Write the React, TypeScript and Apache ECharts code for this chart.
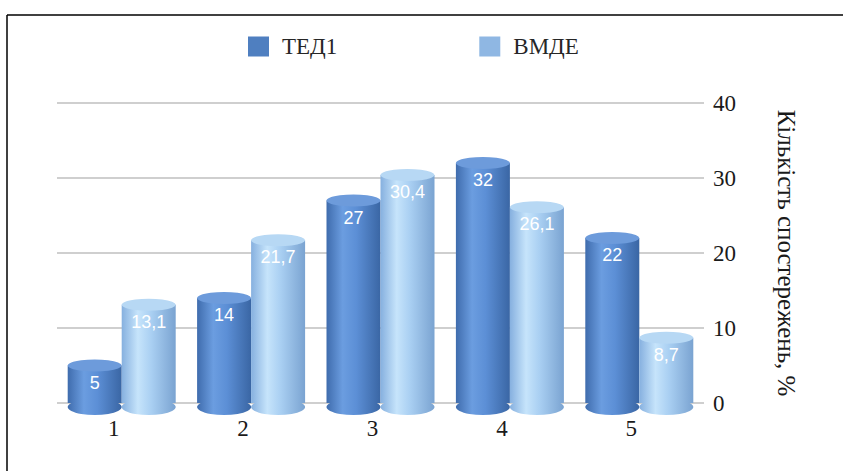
import React, { useEffect, useRef } from "react";
import * as echarts from "echarts";

const categories = ["1", "2", "3", "4", "5"];
const seriesNames = ["ТЕД1", "ВМДЕ"];
const ted1Values = [5, 14, 27, 32, 22];
const vmdeValues = [13.1, 21.7, 30.4, 26.1, 8.7];
const yTicks = { min: 0, max: 40, interval: 10 };
const yAxisTitle = "Кількість спостережень, %";

const BW = 54;
const SERIF = "Liberation Serif";
const SANS = "Liberation Sans";

const grad = (stops: [number, string][]) =>
  new echarts.graphic.LinearGradient(
    0, 0, 1, 0,
    stops.map(([offset, color]) => ({ offset, color }))
  );

const darkBody = () =>
  grad([[0, "#3f6cad"], [0.3, "#6b9de0"], [0.55, "#5c8fd6"], [1, "#3a66a4"]]);
const lightBody = () =>
  grad([[0, "#86b0df"], [0.3, "#c6e4fb"], [0.55, "#a9cff2"], [1, "#7aa3d1"]]);

export default function App() {
  const ref = useRef<HTMLDivElement>(null);
  useEffect(() => {
    if (!ref.current) return;
    const chart = echarts.init(ref.current, null, { renderer: "svg" });
    const fmt = (p: any) => String(p.value).replace(".", ",");
    const bodySeries = (name: string, data: number[], color: any) => ({
      name,
      type: "bar",
      data,
      barWidth: BW,
      barGap: "0%",
      z: 2,
      itemStyle: { color },
      label: {
        show: true,
        position: "insideTop",
        distance: 8,
        color: "#ffffff",
        fontFamily: SANS,
        fontSize: 18,
        formatter: fmt,
      },
    });
    const cap = (data: number[], dx: number, color: any, top: boolean) => ({
      type: "pictorialBar",
      data,
      symbol: "circle",
      symbolSize: top ? [BW, 12] : [BW, 16],
      symbolPosition: top ? "end" : "start",
      symbolOffset: top ? [dx, "-50%"] : [dx, 12],
      barWidth: BW,
      barGap: "-100%",
      z: top ? 3 : 1,
      silent: true,
      legendHoverLink: false,
      tooltip: { show: false },
      itemStyle: { color },
    });
    chart.setOption({
      animation: false,
      backgroundColor: "#ffffff",
      textStyle: { fontFamily: SERIF },
      legend: {
        data: [
          { name: seriesNames[0], itemStyle: { color: "#4f7fc0" } },
          { name: seriesNames[1], itemStyle: { color: "#8fb7e3" } },
        ],
        left: 243,
        top: 30,
        itemWidth: 21,
        itemHeight: 20,
        itemGap: 142,
        icon: "rect",
        formatter: "{t|{name}}",
        textStyle: {
          fontFamily: SERIF,
          fontSize: 23,
          color: "#262626",
          rich: {
            t: {
              fontFamily: SERIF,
              fontSize: 23,
              fontWeight: "normal",
              color: "#262626",
              padding: [0, 0, 0, 8],
            },
          },
        },
      },
      grid: { left: 57, right: 139, top: 103, bottom: 68 },
      xAxis: {
        type: "category",
        data: categories,
        axisLine: { show: false },
        axisTick: { show: false },
        axisLabel: {
          margin: 14,
          fontFamily: SERIF,
          fontSize: 23,
          color: "#1a1a1a",
          padding: [0, 16, 0, 0],
        },
      },
      yAxis: {
        type: "value",
        position: "right",
        min: yTicks.min,
        max: yTicks.max,
        interval: yTicks.interval,
        axisLine: { show: false },
        axisTick: { show: false },
        axisLabel: {
          margin: 9,
          fontFamily: SERIF,
          fontSize: 23,
          color: "#1a1a1a",
        },
        splitLine: { lineStyle: { color: "#cfcfcf", width: 2 } },
        name: yAxisTitle,
        nameLocation: "middle",
        nameRotate: -90,
        nameGap: 70,
        nameTextStyle: { fontFamily: SERIF, fontSize: 25, color: "#1a1a1a" },
      },
      graphic: [
        { type: "line", shape: { x1: 7, y1: 15, x2: 843, y2: 15 }, style: { stroke: "#000", lineWidth: 1.5 } },
        { type: "line", shape: { x1: 7, y1: 15, x2: 7, y2: 471 }, style: { stroke: "#000", lineWidth: 1.5 } },
      ],
      series: [
        bodySeries(seriesNames[0], ted1Values, darkBody()),
        bodySeries(seriesNames[1], vmdeValues, lightBody()),
        cap(ted1Values, -BW / 2, darkBody(), false),
        cap(vmdeValues, BW / 2, lightBody(), false),
        cap(ted1Values, -BW / 2, "#6d9bdb", true),
        cap(vmdeValues, BW / 2, "#b7d8f4", true),
      ],
    });
    return () => chart.dispose();
  }, []);
  return (
    <div
      ref={ref}
      style={{ position: "fixed", left: 0, top: 0, width: 843, height: 471 }}
    />
  );
}
